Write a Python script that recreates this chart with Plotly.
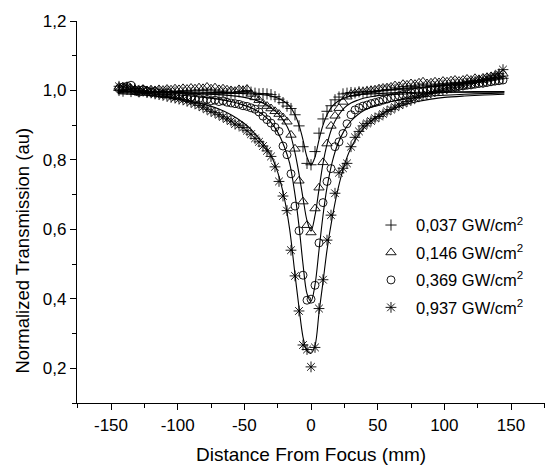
import plotly.graph_objects as go

# ---------------- data ----------------
Z = [-144, -141, -138, -135, -132, -129, -126, -123, -120, -117, -114, -111,
     -108, -105, -102, -99, -96, -93, -90, -87, -84, -81, -78, -75,
     -72, -69, -66, -63, -60, -57, -54, -51, -48, -45, -42, -39,
     -36, -33, -30, -27, -24, -21, -18, -15, -12, -9, -6, -3,
     0,
     3, 6, 9, 12, 15, 18, 21, 24, 27, 30, 33, 36,
     39, 42, 45, 48, 51, 54, 57, 60, 63, 66, 69, 72,
     75, 78, 81, 84, 87, 90, 93, 96, 99, 102, 105, 108,
     111, 114, 117, 120, 123, 126, 129, 132, 135, 138, 141, 144]

T_0037 = [1.0, 0.998, 1.003, 0.997, 1.0, 0.996, 0.999, 0.995, 0.998, 0.994, 0.997, 0.993,
          0.996, 0.992, 0.995, 0.991, 0.994, 0.99, 0.993, 0.989, 0.992, 0.99, 0.993, 0.99,
          0.992, 0.99, 0.993, 0.991, 0.994, 0.992, 0.996, 0.998, 1.0, 0.995, 0.992, 0.99,
          0.991, 0.99, 0.988, 0.982, 0.975, 0.965, 0.955, 0.948, 0.93, 0.898, 0.838, 0.79,
          0.786,
          0.824, 0.877, 0.918, 0.94, 0.956, 0.973, 0.981, 0.99, 0.992, 0.994, 0.993, 0.996,
          0.995, 0.997, 0.998, 0.997, 1.0, 0.999, 1.002, 1.001, 1.003, 1.002, 1.005, 1.004,
          1.006, 1.008, 1.007, 1.009, 1.01, 1.012, 1.011, 1.013, 1.015, 1.014, 1.016, 1.018,
          1.017, 1.019, 1.021, 1.02, 1.023, 1.025, 1.024, 1.027, 1.029, 1.031, 1.033, 1.035]

T_0146 = [1.01, 1.006, 1.008, 1.005, 1.003, 1.001, 1.004, 1.0, 1.002, 1.0, 1.003, 1.001,
          1.004, 1.002, 1.005, 1.003, 1.006, 1.004, 1.007, 1.005, 1.008, 1.006, 1.01, 1.005,
          1.008, 1.003, 1.005, 1.002, 1.0, 0.998, 1.003, 1.0, 1.004, 0.99, 0.98, 0.972,
          0.962, 0.955, 0.948, 0.94, 0.932, 0.922, 0.91, 0.872, 0.832, 0.74, 0.68, 0.612,
          0.591,
          0.66, 0.72, 0.793, 0.847, 0.898, 0.927, 0.949, 0.967, 0.982, 0.99, 0.992, 0.995,
          0.996, 0.998, 1.0, 1.002, 1.005, 1.007, 1.008, 1.01, 1.014, 1.012, 1.018, 1.016,
          1.02, 1.018, 1.022, 1.025, 1.02, 1.022, 1.025, 1.023, 1.027, 1.025, 1.028, 1.03,
          1.027, 1.03, 1.033, 1.03, 1.035, 1.032, 1.036, 1.038, 1.04, 1.042, 1.045, 1.048]

T_0369 = [1.005, 1.01, 1.012, 1.015, 1.0, 0.995, 1.002, 0.998, 0.995, 0.997, 0.992, 0.99,
          0.993, 0.988, 0.985, 0.987, 0.982, 0.978, 0.98, 0.975, 0.977, 0.972, 0.974, 0.97,
          0.972, 0.968, 0.97, 0.966, 0.964, 0.962, 0.96, 0.956, 0.954, 0.95, 0.946, 0.938,
          0.926, 0.916, 0.906, 0.894, 0.882, 0.84, 0.815, 0.76, 0.667, 0.596, 0.468, 0.396,
          0.399,
          0.439, 0.561, 0.677, 0.738, 0.775, 0.838, 0.852, 0.876, 0.904, 0.93, 0.944, 0.95,
          0.955, 0.958, 0.962, 0.965, 0.968, 0.972, 0.975, 0.979, 0.982, 0.985, 0.988, 0.99,
          0.993, 0.995, 0.997, 0.998, 1.0, 1.001, 1.003, 1.004, 1.006, 1.007, 1.009, 1.01,
          1.012, 1.013, 1.015, 1.016, 1.018, 1.02, 1.021, 1.023, 1.025, 1.027, 1.028, 1.03]

T_0937 = [1.012, 1.008, 1.01, 1.003, 1.005, 0.998, 1.0, 0.995, 0.993, 0.99, 0.988, 0.986,
          0.983, 0.98, 0.978, 0.975, 0.973, 0.969, 0.966, 0.962, 0.957, 0.952, 0.946, 0.94,
          0.936, 0.93, 0.924, 0.918, 0.912, 0.903, 0.9, 0.893, 0.884, 0.874, 0.862, 0.852,
          0.84, 0.826, 0.81, 0.78, 0.738, 0.696, 0.654, 0.54, 0.466, 0.365, 0.267, 0.254,
          0.204,
          0.26, 0.372, 0.455, 0.569, 0.641, 0.704, 0.763, 0.776, 0.79, 0.838, 0.865, 0.882,
          0.898, 0.905, 0.912, 0.92, 0.925, 0.932, 0.94, 0.945, 0.952, 0.958, 0.963, 0.968,
          0.972, 0.978, 0.982, 0.986, 0.99, 0.993, 0.997, 1.0, 1.002, 1.005, 1.008, 1.01,
          1.014, 1.016, 1.02, 1.022, 1.025, 1.028, 1.03, 1.035, 1.038, 1.042, 1.048, 1.06]

# fitted curves
Z_FIT = [-145, -130, -115, -100, -90, -80, -70, -60, -50, -45, -40, -35, -30, -25,
         -20, -16, -12, -9, -6, -3, 0, 3, 6, 9, 12, 16, 20, 25, 30, 35, 40, 45, 50,
         60, 70, 80, 90, 100, 115, 130, 145]

FIT_0037 = [0.997, 0.997, 0.996, 0.996, 0.995, 0.995, 0.994, 0.993, 0.991, 0.99, 0.989,
            0.987, 0.984, 0.978, 0.968, 0.955, 0.93, 0.9, 0.858, 0.808, 0.785, 0.808,
            0.858, 0.9, 0.93, 0.955, 0.968, 0.978, 0.984, 0.987, 0.989, 0.99, 0.991,
            0.993, 0.994, 0.995, 0.995, 0.996, 0.996, 0.997, 0.997]

FIT_0146 = [0.996, 0.995, 0.994, 0.993, 0.992, 0.99, 0.988, 0.985, 0.98, 0.976, 0.97,
            0.962, 0.95, 0.935, 0.91, 0.88, 0.82, 0.76, 0.69, 0.625, 0.595, 0.64,
            0.715, 0.79, 0.845, 0.895, 0.925, 0.95, 0.964, 0.972, 0.978, 0.982, 0.985,
            0.988, 0.99, 0.992, 0.993, 0.994, 0.995, 0.995, 0.996]

FIT_0369 = [0.994, 0.992, 0.99, 0.987, 0.984, 0.98, 0.975, 0.968, 0.957, 0.95, 0.94,
            0.927, 0.908, 0.88, 0.838, 0.79, 0.7, 0.61, 0.5, 0.415, 0.393, 0.44,
            0.54, 0.64, 0.72, 0.795, 0.845, 0.885, 0.912, 0.93, 0.943, 0.952, 0.959,
            0.968, 0.975, 0.98, 0.984, 0.986, 0.989, 0.991, 0.993]

FIT_0937 = [0.991, 0.988, 0.983, 0.976, 0.969, 0.96, 0.948, 0.93, 0.905, 0.888, 0.866,
            0.843, 0.813, 0.765, 0.69, 0.6, 0.47, 0.375, 0.29, 0.25, 0.243, 0.265,
            0.36, 0.448, 0.54, 0.635, 0.712, 0.785, 0.835, 0.868, 0.893, 0.911, 0.925,
            0.945, 0.958, 0.968, 0.975, 0.98, 0.984, 0.987, 0.989]

SERIES_NAMES = ["0,037 GW/cm<sup>2</sup>", "0,146 GW/cm<sup>2</sup>",
                "0,369 GW/cm<sup>2</sup>", "0,937 GW/cm<sup>2</sup>"]

X_TICKS = [-150, -100, -50, 0, 50, 100, 150]
X_TICK_LABELS = ["-150", "-100", "-50", "0", "50", "100", "150"]
X_MINOR = [-175, -125, -75, -25, 25, 75, 125, 175]
Y_TICKS = [0.2, 0.4, 0.6, 0.8, 1.0, 1.2]
Y_TICK_LABELS = ["0,2", "0,4", "0,6", "0,8", "1,0", "1,2"]
Y_MINOR = [0.1, 0.3, 0.5, 0.7, 0.9, 1.1]

X_TITLE = "Distance From Focus (mm)"
Y_TITLE = "Normalized Transmission (au)"

# ---------------- figure ----------------
FONT = "Arial, Liberation Sans, sans-serif"
fig = go.Figure()

for fit in [FIT_0037, FIT_0146, FIT_0369, FIT_0937]:
    fig.add_trace(go.Scatter(x=Z_FIT, y=fit, mode="lines", showlegend=False,
                             line=dict(color="black", width=1.1, shape="spline", smoothing=0.9),
                             hoverinfo="skip"))

symbols = ["cross-thin-open", "triangle-up-open", "circle-open", "asterisk-open"]
sizes = [8, 9, 8, 9]
for i, (vals, name, sym, sz) in enumerate(zip([T_0037, T_0146, T_0369, T_0937],
                                               SERIES_NAMES, symbols, sizes)):
    fig.add_trace(go.Scatter(x=Z, y=vals, mode="markers", name=name, legendgroup=f"g{i}",
                             marker=dict(symbol=sym, size=sz, color="black",
                                         line=dict(color="black", width=0.9))))

fig.update_layout(
    width=545, height=466,
    margin=dict(l=77, r=0, t=21, b=63, autoexpand=False),
    paper_bgcolor="white", plot_bgcolor="white",
    font=dict(family=FONT, size=17, color="black"),
    separators=", ",
    showlegend=True,
    legend=dict(x=0.6175, y=0.511, xanchor="left", yanchor="top",
                bgcolor="rgba(0,0,0,0)", borderwidth=0, itemwidth=40,
                font=dict(family=FONT, size=16.5, color="black"),
                tracegroupgap=3),
    annotations=[
        dict(text=X_TITLE, xref="paper", yref="paper", x=0.5, y=-0.134,
             xanchor="center", yanchor="middle", showarrow=False,
             font=dict(family=FONT, size=19, color="black")),
        dict(text=Y_TITLE, xref="paper", yref="paper", x=-0.1154, y=0.399,
             xanchor="center", yanchor="middle", showarrow=False, textangle=-90,
             font=dict(family=FONT, size=18.5, color="black")),
    ],
)

fig.update_xaxes(
    range=[-175.5, 175.5], showgrid=False, zeroline=False, automargin=False,
    showline=True, linecolor="black", linewidth=1.3,
    ticks="outside", ticklen=6, tickwidth=1.2, tickcolor="black",
    tickvals=X_TICKS, ticktext=X_TICK_LABELS,
    minor=dict(tickvals=X_MINOR, ticks="outside", ticklen=4, tickwidth=1.2, tickcolor="black"),
    tickfont=dict(size=17),
)
fig.update_yaxes(
    range=[0.1, 1.2], showgrid=False, zeroline=False, automargin=False,
    showline=True, linecolor="black", linewidth=1.3,
    ticks="outside", ticklen=6, tickwidth=1.2, tickcolor="black",
    tickvals=Y_TICKS, ticktext=Y_TICK_LABELS,
    minor=dict(tickvals=Y_MINOR, ticks="outside", ticklen=4, tickwidth=1.2, tickcolor="black"),
    tickfont=dict(size=17),
)

fig.write_html("out.html",
               config={"displayModeBar": False},
               post_script="document.body.style.margin='0px';"
                           "document.body.style.overflow='hidden';")
